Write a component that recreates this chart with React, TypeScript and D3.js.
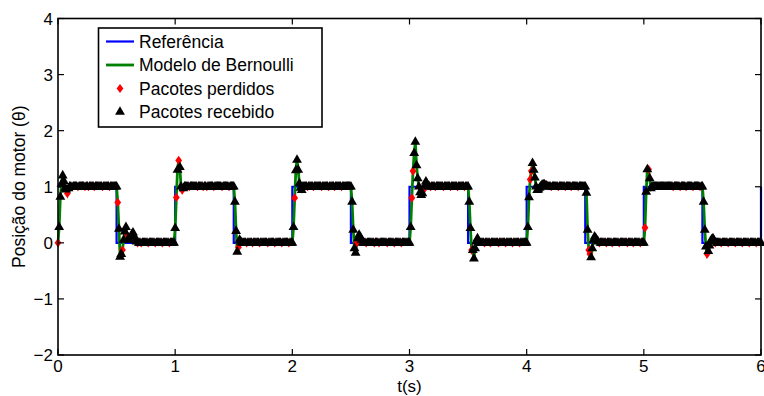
import { useMemo } from 'react';
import * as d3 from 'd3';

// sampling period of the discrete system (s)
const Ts = 0.01;

// instants where the reference square wave switches
const edgeTimes = [0, 0.5, 1, 1.5, 2, 2.5, 3, 3.5, 4, 4.5, 5, 5.5, 6];
const refLevels = [1, 0, 1, 0, 1, 0, 1, 0, 1, 0, 1, 0, 1];

// Bernoulli model response right after each switching instant (one value per sample)
const edgeResponses = [
  [0, 0.28, 0.82, 1.05, 1.2, 1.1, 0.97, 0.95, 0.88, 0.97, 1.0],
  [1.0, 0.72, 0.25, -0.25, -0.2, -0.13, 0.05, 0.2, 0.28, 0.14, 0.08, 0.05, 0.1, 0.15, 0.18, 0.12, 0.05, 0.02, 0],
  [0.26, 0.81, 1.3, 1.47, 1.35, 1.0, 0.94, 0.97, 1.0],
  [1.0, 0.73, 0.21, -0.16, -0.08, 0.05, 0.02, 0],
  [0, 0.28, 0.8, 1.29, 1.48, 1.3, 1.06, 0.98, 0.94, 1.0],
  [1.0, 0.73, 0.23, -0.1, -0.18, 0.0, 0.08, 0.14, 0.1, 0.05, 0],
  [0, 0.28, 0.8, 1.28, 1.6, 1.8, 1.38, 1.15, 1.0, 0.9, 0.85, 0.88, 0.94, 1.02, 1.09, 1.05, 1.0],
  [1.0, 0.73, 0.26, -0.13, -0.13, -0.28, -0.1, 0.02, 0.08, 0.03, 0],
  [0, 0.28, 0.81, 1.13, 1.28, 1.42, 1.3, 1.16, 1.0, 0.94, 0.95, 0.98, 1.0, 1.03, 1.04, 1.04, 1.04, 1.02, 1.0],
  [1.0, 0.89, 0.23, -0.13, -0.2, -0.26, -0.1, 0.05, 0.11, 0.08, 0.04, 0.02, 0],
  [0, 0.27, 0.91, 1.31, 1.31, 1.15, 0.97, 1.0],
  [1.0, 0.73, 0.23, -0.07, -0.2, -0.15, -0.05, 0.03, 0.06, 0.08, 0.04, 0],
  [0],
];

// sample indices whose packet was lost
const lostIdx = [
  0, 8, 12, 17, 23, 26, 31, 38, 44,
  51, 55, 59, 62, 68, 71, 77, 83, 89, 95,
  101, 103, 106, 112, 119, 124, 127, 133, 140, 146,
  154, 161, 166, 172, 179, 185, 191, 197,
  202, 213, 218, 225, 231, 236, 242,
  255, 263, 270, 274, 281, 287, 293,
  302, 303, 312, 318, 322, 329, 335, 341, 347,
  353, 364, 369, 376, 382, 388, 394,
  403, 404, 416, 421, 427, 433, 438, 444,
  453, 454, 462, 468, 473, 479, 486, 491, 497,
  501, 504, 525, 531, 536, 542, 548,
  554, 561, 566, 572, 578, 584, 590, 596,
];

const xTicks = [0, 1, 2, 3, 4, 5, 6];
const yTicks = [-2, -1, 0, 1, 2, 3, 4];

const legendItems = ['Referência', 'Modelo de Bernoulli', 'Pacotes perdidos', 'Pacotes recebido'];

const W = 764;
const H = 396;
const m = { left: 58, right: 761, top: 18.5, bottom: 355 };
const FONT = '"Liberation Sans", Arial, Helvetica, sans-serif';
const FS = 17.5;

type Sample = { t: number; v: number; lost: boolean };

const App = () => {
  const x = d3.scaleLinear().domain([0, 6]).range([m.left, m.right]);
  const y = d3.scaleLinear().domain([-2, 4]).range([m.bottom, m.top]);

  const samples: Sample[] = useMemo(() => {
    const lost = new Set(lostIdx);
    const n = Math.round(6 / Ts);
    const out: Sample[] = [];
    for (let i = 0; i <= n; i++) {
      const e = Math.floor(i / 50);
      const k = i - e * 50;
      const resp = edgeResponses[e];
      const v = k < resp.length ? resp[k] : refLevels[e];
      out.push({ t: i * Ts, v, lost: lost.has(i) });
    }
    return out;
  }, []);

  const refLine = d3.line<number>()
    .x((_, i) => x(edgeTimes[i]))
    .y((d) => y(d))
    .curve(d3.curveStepAfter);

  const modelLine = d3.line<Sample>()
    .x((d) => x(d.t))
    .y((d) => y(d.v));

  const tri = d3.symbol().type(d3.symbolTriangle).size(42)()!;
  const diamond = 'M0,-4.6L3.4,0L0,4.6L-3.4,0Z';
  const fmt = d3.format('d');

  const lg = { x: 98.5, y: 28, w: 223.5, h: 99, row: 23.5 };

  return (
    <svg width={W} height={H} style={{ position: 'absolute', left: 0, top: 0, background: '#fff' }}
      fontFamily={FONT}>
      <rect width={W} height={H} fill="#fff" />

      <path d={refLine(refLevels) ?? ''} fill="none" stroke="#0000ff" strokeWidth={2.2} />
      <path d={modelLine(samples) ?? ''} fill="none" stroke="#008000" strokeWidth={2.8} />

      <g fill="#ff0000">
        {samples.filter((d) => d.lost).map((d, i) => (
          <path key={i} d={diamond} transform={`translate(${x(d.t)},${y(d.v)})`} />
        ))}
      </g>
      <g fill="#000">
        {samples.filter((d) => !d.lost).map((d, i) => (
          <path key={i} d={tri} transform={`translate(${x(d.t)},${y(d.v)})`} />
        ))}
      </g>

      {/* axes box and inward ticks */}
      <rect x={m.left} y={m.top} width={m.right - m.left} height={m.bottom - m.top}
        fill="none" stroke="#000" strokeWidth={1.6} />
      {xTicks.map((t) => (
        <g key={`x${t}`}>
          <line x1={x(t)} x2={x(t)} y1={m.bottom} y2={m.bottom - 6} stroke="#000" strokeWidth={1.2} />
          <line x1={x(t)} x2={x(t)} y1={m.top} y2={m.top + 6} stroke="#000" strokeWidth={1.2} />
          <text x={x(t)} y={371.5} textAnchor="middle" fontSize={17}>{fmt(t)}</text>
        </g>
      ))}
      {yTicks.map((t) => (
        <g key={`y${t}`}>
          <line x1={m.left} x2={m.left + 6} y1={y(t)} y2={y(t)} stroke="#000" strokeWidth={1.2} />
          <line x1={m.right} x2={m.right - 6} y1={y(t)} y2={y(t)} stroke="#000" strokeWidth={1.2} />
          <text x={53} y={y(t)} dy="0.36em" textAnchor="end" fontSize={17}>{fmt(t)}</text>
        </g>
      ))}
      <text x={x(3)} y={392} textAnchor="middle" fontSize={17}>t(s)</text>
      <text transform={`translate(25,${(m.top + m.bottom) / 2}) rotate(-90)`} textAnchor="middle" fontSize={FS}>
        Posição do motor (θ)
      </text>

      {/* legend */}
      <rect x={lg.x} y={lg.y} width={lg.w} height={lg.h} fill="#fff" stroke="#000" strokeWidth={1.6} />
      {legendItems.map((label, i) => {
        const cy = lg.y + 13.5 + i * lg.row;
        return (
          <g key={label}>
            {i === 0 && <line x1={106} x2={134} y1={cy} y2={cy} stroke="#0000ff" strokeWidth={2.2} />}
            {i === 1 && <line x1={106} x2={134} y1={cy} y2={cy} stroke="#008000" strokeWidth={2.8} />}
            {i === 2 && <path d={diamond} fill="#ff0000" transform={`translate(120,${cy})`} />}
            {i === 3 && <path d={tri} fill="#000" transform={`translate(120,${cy})`} />}
            <text x={139} y={cy} dy="0.36em" fontSize={FS}>{label}</text>
          </g>
        );
      })}
    </svg>
  );
};

export default App;
